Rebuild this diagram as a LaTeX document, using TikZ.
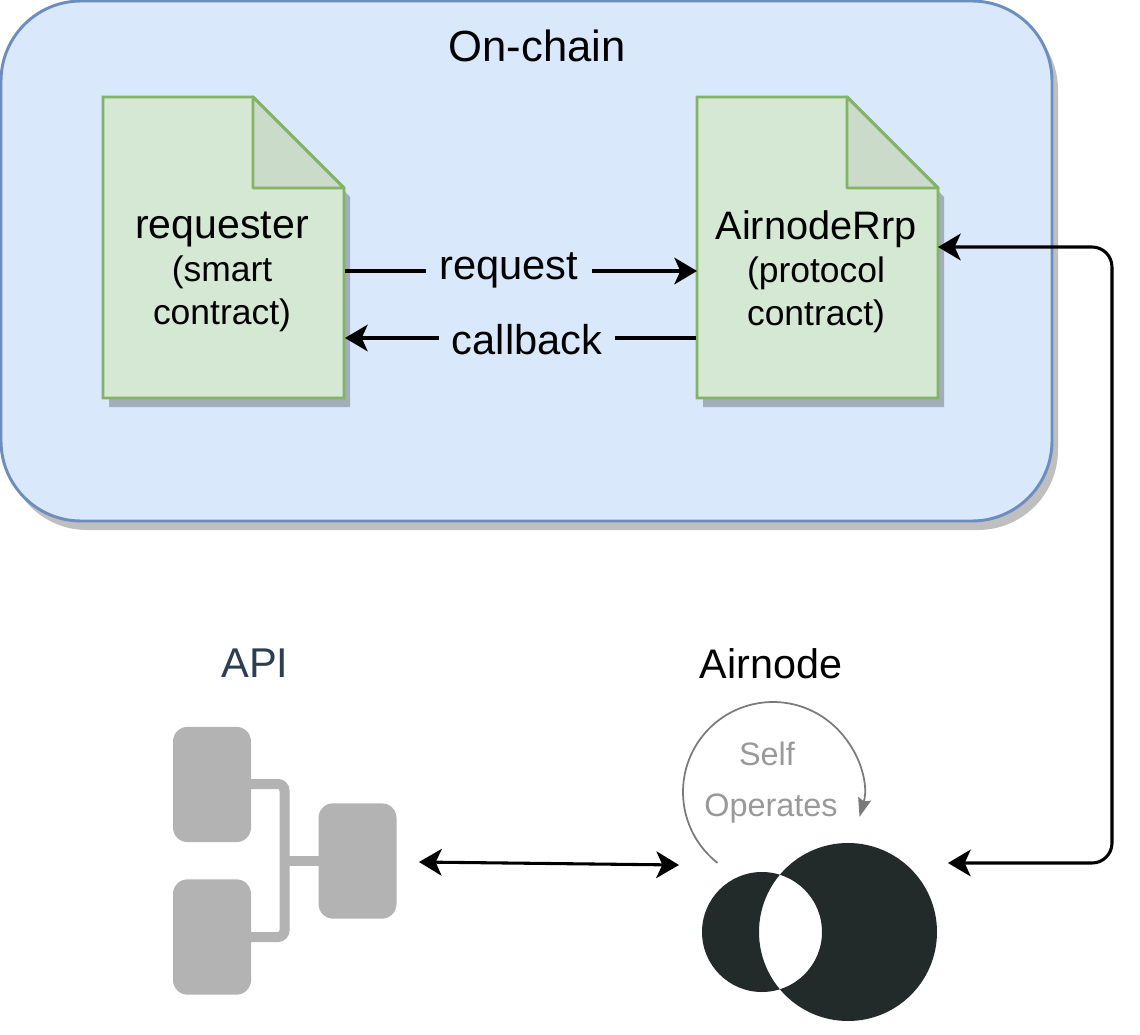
\documentclass[tikz,border=0pt]{standalone}
\usepackage{fontspec}
\setmainfont{Liberation Sans}
\usetikzlibrary{arrows.meta}
\definecolor{chainfill}{HTML}{DAE8FC}
\definecolor{chainline}{HTML}{6C8EBF}
\definecolor{docfill}{HTML}{D5E8D4}
\definecolor{docfold}{HTML}{CADCC9}
\definecolor{docline}{HTML}{82B366}
\definecolor{apigrey}{HTML}{B3B3B3}
\definecolor{apitext}{HTML}{2C3E50}
\definecolor{nodedark}{HTML}{232A2A}
\definecolor{selfgrey}{HTML}{999999}
\definecolor{loopgrey}{HTML}{7A7A7A}
\newcommand{\docshape}[2]{%
  \fill[black,opacity=.25] (#1+6,#2+9) -- ++(150,0) -- ++(91,91) -- ++(0,210) -- ++(-241,0) -- cycle;
  \filldraw[docbody] (#1,#2) -- ++(150,0) -- ++(91,91) -- ++(0,210) -- ++(-241,0) -- cycle;
  \filldraw[docbody,fill=docfold,line join=round] (#1+150,#2) -- ++(0,91) -- ++(91,0) -- cycle;
}
\tikzset{
  x=0.75pt,y=-0.75pt,
  docbody/.style={fill=docfill,draw=docline,line width=2.2pt},
  doctext/.style={align=center,inner sep=0,text=black},
  conn/.style={line width=2.3pt,black},
  flowlabel/.style={inner xsep=9.75pt,inner ysep=4pt,font=\fontsize{31.2}{36}\selectfont,text=black},
  apibox/.style={fill=apigrey,rounded corners=11pt,minimum width=58.5pt,minimum height=86.5pt,inner sep=0},
  apilink/.style={draw=apigrey,line width=7.5pt},
  selftext/.style={text=selfgrey,font=\fontsize{24.3}{28}\selectfont,inner sep=0},
  stip/.tip={Stealth[length=17pt,width=20pt,inset=4.5pt]},
}
\begin{document}
\begin{tikzpicture}
\useasboundingbox (0,0) rectangle (1140,1035);
\fill[white] (0,0) rectangle (1140,1035);
% on-chain region
\fill[black,opacity=.25,rounded corners=60pt] (7,10) rectangle (1058,530);
\filldraw[fill=chainfill,draw=chainline,line width=2.2pt,rounded corners=60pt] (1,1) rectangle (1052,521);
\node[font=\fontsize{32.7}{38}\selectfont,text=black,inner sep=0] (onchain) at (537,46) {On-chain};
% documents
\docshape{103}{97}
\docshape{697}{97}
\node[doctext] (req) at (222,272) {{\fontsize{30.8}{36}\selectfont requester}\\[5.5pt]{\fontsize{26.6}{32}\selectfont (smart}\\[7pt]{\fontsize{26.6}{32}\selectfont contract)}};
\node[doctext] (rrp) at (816,272) {{\fontsize{29.8}{36}\selectfont AirnodeRrp}\\[5.5pt]{\fontsize{26.6}{32}\selectfont (protocol}\\[7pt]{\fontsize{26.6}{32}\selectfont contract)}};
\coordinate (reqOut) at (345,271);
\coordinate (rrpIn) at (697,271);
\coordinate (rrpOut) at (696,338);
\coordinate (reqIn) at (345,338);
\coordinate (rrpSide) at (938,247);
\node[flowlabel] (lreq) at (509,270) {request};
\node[flowlabel] (lcb) at (527,340) {callback};
\draw[conn] (reqOut) -- (lreq.west |- reqOut);
\draw[conn,-stip] (lreq.east |- rrpIn) -- (rrpIn);
\draw[conn] (rrpOut) -- (lcb.east |- rrpOut);
\draw[conn,-stip] (lcb.west |- reqIn) -- (reqIn);
% API
\node[inner sep=0,font=\fontsize{31.2}{36}\selectfont,text=apitext] (apilabel) at (255,663) {API};
\coordinate (j1) at (284.5,784);
\coordinate (j2) at (284.5,937);
\coordinate (j3) at (284.5,861);
\path[apilink,rounded corners=5pt] (240,784) -- (j1) -- (j2) -- (240,937);
\path[apilink] (j3) -- (330,861);
\node[apibox] (api1) at (212,784.5) {};
\node[apibox] (api2) at (212,937) {};
\node[apibox] (api3) at (357.5,861) {};
% Airnode
\node[inner sep=0,font=\fontsize{31}{36}\selectfont,text=black] (airlabel) at (771,664) {Airnode};
\fill[nodedark,even odd rule] (848,932) circle[radius=89] (762,932) circle[radius=60];
\draw[loopgrey,line width=1.3pt,-{Stealth[length=14pt,width=10pt,inset=2pt]}] (773,792) ++(128:90) arc[start angle=128,end angle=376,radius=90];
\node[selftext] (self) at (767,754) {Self};
\node[selftext] (oper) at (771,809) {Operates};
% connectors
\coordinate (apiPort) at (419,862);
\coordinate (airPortL) at (679,865);
\coordinate (airPortR) at (948,863);
\draw[conn,stip-stip] (apiPort) -- (airPortL);
\draw[conn,rounded corners=15pt,stip-stip] (rrpSide) -- (1112,247) -- (1112,863) -- (airPortR);
\end{tikzpicture}
\end{document}
